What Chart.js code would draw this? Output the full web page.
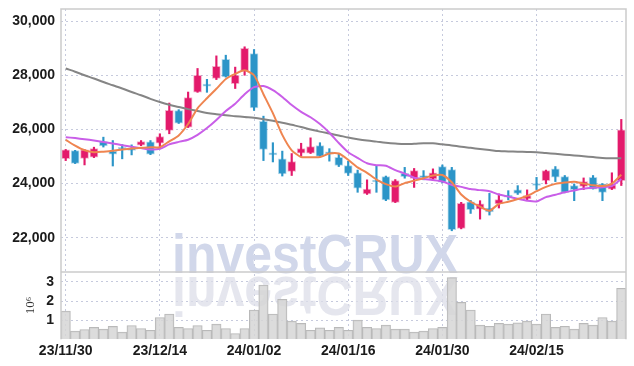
<!DOCTYPE html>
<html>
<head>
<meta charset="utf-8">
<script src="https://cdn.jsdelivr.net/npm/chart.js@4.4.1/dist/chart.umd.min.js"></script>
<style>
  html, body { margin: 0; padding: 0; background: #fff; }
  #wrap { width: 634px; height: 366px; position: relative; }
</style>
</head>
<body>
<div id="wrap"><canvas id="chart"></canvas></div>
<script>
// trading days shown on the category axis
const dates = [
  '23/11/30', '23/12/01', '23/12/04', '23/12/05', '23/12/06', '23/12/07', '23/12/08', '23/12/11', '23/12/12', '23/12/13',
  '23/12/14', '23/12/15', '23/12/18', '23/12/19', '23/12/20', '23/12/21', '23/12/22', '23/12/26', '23/12/27', '23/12/28',
  '24/01/02', '24/01/03', '24/01/04', '24/01/05', '24/01/08', '24/01/09', '24/01/10', '24/01/11', '24/01/12', '24/01/15',
  '24/01/16', '24/01/17', '24/01/18', '24/01/19', '24/01/22', '24/01/23', '24/01/24', '24/01/25', '24/01/26', '24/01/29',
  '24/01/30', '24/01/31', '24/02/01', '24/02/02', '24/02/05', '24/02/06', '24/02/07', '24/02/08', '24/02/13', '24/02/14',
  '24/02/15', '24/02/16', '24/02/19', '24/02/20', '24/02/21', '24/02/22', '24/02/23', '24/02/26', '24/02/27', '24/02/28'
];

const opens = [
  24920, 25220, 24930, 24975, 25555, 25200, 25290, 25285, 25420, 25545,
  25490, 25963, 26700, 26085, 27380, 27620, 27880, 28590, 27690, 28150,
  28800, 26300, 25090, 24915, 24455, 25120, 25120, 25400, 25130, 24970,
  24667, 24396, 23620, 24090, 24260, 23310, 24380, 24196, 24250, 24175,
  24630, 24520, 22345, 23330, 23060, 23100, 23250, 23530, 23770, 23435,
  23960, 24110, 24545, 24260, 23930, 23900, 24235, 23990, 23800, 24110
];
const highs = [
  25260, 25230, 25260, 25345, 25715, 25590, 25445, 25430, 25590, 25590,
  25840, 26974, 26730, 27380, 28250, 27850, 28715, 28740, 28300, 29050,
  28950, 26490, 25510, 25200, 25110, 25490, 25690, 25510, 25290, 25120,
  24830, 24500, 24140, 24667, 24280, 24150, 24600, 24560, 24480, 24545,
  24690, 24600, 23310, 23380, 23370, 23640, 23620, 23740, 23926, 23770,
  24230, 24500, 24630, 24300, 23990, 24210, 24300, 24000, 24400, 26370
];
const lows = [
  24850, 24740, 24690, 24960, 25350, 24650, 24915, 25060, 25400, 25070,
  25285, 25840, 26220, 26070, 27370, 27370, 27840, 27930, 27510, 28000,
  26700, 24850, 24800, 24280, 24300, 25010, 25110, 24990, 24830, 24630,
  24300, 23680, 23600, 23680, 23370, 23300, 24200, 23860, 24140, 24110,
  24030, 22260, 22330, 22900, 22690, 22840, 23100, 23400, 23600, 23370,
  23780, 23990, 24075, 23660, 23370, 23780, 23800, 23370, 23780, 23930
];
const closes = [
  25250, 24750, 25250, 25290, 25390, 25090, 25270, 25230, 25555, 25085,
  25740, 26704, 26235, 27175, 28000, 27600, 28330, 27940, 28000, 28990,
  26790, 25260, 25060, 24360, 24815, 25290, 25370, 25000, 25100, 24670,
  24380, 23830, 23800, 24060, 23400, 24110, 24260, 24480, 24220, 24400,
  24050, 22300, 23270, 23040, 23250, 22960, 23410, 23500, 23640, 23555,
  23930, 24480, 24235, 23680, 23780, 24075, 23800, 23680, 23960, 25990
];

// moving averages
const ma5 = [
  25618, 25400, 25230, 25160, 25180, 25210, 25260, 25300, 25320, 25340,
  25345, 25560, 25780, 26200, 26780, 27150, 27500, 27860, 28050, 28180,
  28000, 27300, 26600, 25800, 25230, 24980, 24975, 24980, 25110, 25110,
  24880, 24600, 24400, 24150, 23980, 23890, 24020, 24110, 24200, 24300,
  24320, 24050, 23600, 23330, 23150, 23000, 23250, 23330, 23430, 23550,
  23720, 23880, 23990, 24040, 24070, 24000, 23940, 23910, 24000, 24330
];
const ma20 = [
  25715, 25680, 25640, 25590, 25540, 25480, 25420, 25360, 25310, 25260,
  25285, 25450, 25540, 25620, 25800, 26050, 26350, 26680, 26950, 27300,
  27560, 27600, 27450, 27200, 26900, 26650, 26450, 26200, 25880, 25500,
  25160, 24950, 24750, 24680, 24660, 24500, 24370, 24220, 24170, 24130,
  24080, 23950, 23880, 23800, 23760, 23720, 23600, 23520, 23440, 23370,
  23340, 23500, 23590, 23680, 23750, 23820, 23850, 23870, 23910, 24170
];
const maLong = [
  28250, 28130, 28000, 27880, 27750, 27630, 27510, 27380, 27260, 27130,
  27010, 26910, 26830, 26750, 26680, 26610, 26560, 26520, 26490, 26460,
  26430, 26380, 26320, 26250, 26170, 26090, 26000, 25920, 25850, 25780,
  25700, 25640, 25590, 25550, 25510, 25480, 25460, 25470, 25490, 25490,
  25450, 25410, 25360, 25320, 25280, 25240, 25200, 25190, 25180, 25170,
  25160, 25130, 25100, 25070, 25040, 25010, 24980, 24950, 24940, 24940
];

// volume in millions of shares
const volumes = [
  1.47, 0.42, 0.51, 0.62, 0.53, 0.67, 0.37, 0.72, 0.56, 0.47,
  1.14, 1.32, 0.62, 0.56, 0.72, 0.47, 0.79, 0.56, 0.30, 0.56,
  1.53, 2.84, 1.32, 2.09, 0.95, 0.83, 0.47, 0.60, 0.47, 0.62,
  0.47, 1.00, 0.62, 0.56, 0.74, 0.53, 0.53, 0.37, 0.42, 0.56,
  0.62, 3.23, 1.93, 1.53, 0.74, 0.68, 0.83, 0.79, 0.86, 0.95,
  0.79, 1.32, 0.62, 0.68, 0.53, 0.83, 0.74, 1.14, 0.95, 2.67
];

const priceTicks = [22000, 24000, 26000, 28000, 30000];
const volumeTicks = [1, 2, 3];
const labelEvery = 10;

const UP = '#e31a6b';
const DOWN = '#2c95c8';
const GRID = '#c6cadd';
const TICK_FONT = "'Liberation Sans Narrow', 'Liberation Sans', sans-serif";

const isUp = closes.map((c, i) => c >= opens[i]);
const candleColors = isUp.map(u => u ? UP : DOWN);
const haloColors = isUp.map(u => u ? 'rgba(227,26,107,0.35)' : 'rgba(44,149,200,0.35)');

// fixed axis width, no extra label padding above/below the panels
function fitAxis(axis) {
  axis.width = 52;
  axis.paddingTop = 0;
  axis.paddingBottom = 0;
}

// watermark behind the marks, frame lines on top
const framePlugin = {
  id: 'frame',
  beforeDatasetsDraw(chart) {
    const { ctx, chartArea } = chart;
    const py = chart.scales.y;
    const text = 'investCRUX';
    ctx.save();
    ctx.beginPath();
    ctx.rect(chartArea.left, chartArea.top, chartArea.width, chartArea.height);
    ctx.clip();
    ctx.font = 'bold 55px "Liberation Sans", sans-serif';
    const w = ctx.measureText(text).width;
    ctx.translate(315, py.bottom + 1);
    ctx.scale(286 / w, 1);
    ctx.textAlign = 'center';
    ctx.textBaseline = 'alphabetic';
    ctx.fillStyle = '#d1d7ea';
    ctx.fillText(text, 0, 0);
    ctx.scale(1, -1);
    ctx.fillStyle = 'rgba(220,222,232,0.75)';
    ctx.fillText(text, 0, -4);
    ctx.restore();
  },
  afterDraw(chart) {
    const { ctx } = chart;
    const py = chart.scales.y, vy = chart.scales.yVol;
    const l = chart.chartArea.left, r = chart.chartArea.right;
    ctx.save();
    ctx.strokeStyle = '#cbcbcb';
    ctx.lineWidth = 1.5;
    ctx.beginPath();
    ctx.moveTo(l, vy.bottom); ctx.lineTo(l, py.top); ctx.lineTo(r, py.top); ctx.lineTo(r, vy.bottom);
    ctx.moveTo(l, py.bottom); ctx.lineTo(r, py.bottom);
    ctx.stroke();
    ctx.restore();
  }
};

new Chart(document.getElementById('chart'), {
  type: 'bar',
  data: {
    labels: dates,
    datasets: [
      {
        type: 'line', label: 'MA5', data: ma5, yAxisID: 'y', order: 0,
        borderColor: '#ef8550', borderWidth: 2, pointRadius: 0, tension: 0.2
      },
      {
        type: 'line', label: 'MA20', data: ma20, yAxisID: 'y', order: 1,
        borderColor: '#c95ee8', borderWidth: 2, pointRadius: 0, tension: 0.2
      },
      {
        type: 'line', label: 'MA long', data: maLong, yAxisID: 'y', order: 2,
        borderColor: '#858585', borderWidth: 2, pointRadius: 0, tension: 0.4
      },
      {
        label: 'body', data: opens.map((o, i) => [o, closes[i]]), yAxisID: 'y', order: 3,
        grouped: false, barThickness: 8, minBarLength: 2,
        backgroundColor: candleColors, borderColor: haloColors, borderWidth: 1, borderSkipped: false
      },
      {
        label: 'wick', data: lows.map((l, i) => [l, highs[i]]), yAxisID: 'y', order: 4,
        grouped: false, barThickness: 1.5,
        backgroundColor: candleColors, borderWidth: 0
      },
      {
        label: 'volume', data: volumes, yAxisID: 'yVol', order: 5,
        grouped: false, barPercentage: 1, categoryPercentage: 1,
        backgroundColor: 'rgba(214,214,214,0.85)', borderColor: '#b9b9b9', borderWidth: 1, borderSkipped: 'bottom'
      }
    ]
  },
  options: {
    responsive: true,
    maintainAspectRatio: false,
    animation: false,
    layout: { padding: { left: 9, right: 8, top: 9, bottom: 2 } },
    plugins: { legend: { display: false }, tooltip: { enabled: false } },
    scales: {
      x: {
        offset: true,
        grid: { offset: false, color: GRID, drawTicks: false },
        border: { display: false, dash: [2, 3] },
        ticks: {
          autoSkip: false, maxRotation: 0, padding: 4, color: '#1b1b1b',
          font: { family: TICK_FONT, size: 14, weight: 'bold' },
          callback: function(value, index) {
            return index % labelEvery === 0 ? this.getLabelForValue(value) : null;
          }
        }
      },
      yVol: {
        stack: 'panels', stackWeight: 67,
        min: 0, max: 3.526,
        grid: { color: GRID, drawTicks: false },
        border: { display: false, dash: [2, 3] },
        afterBuildTicks: axis => { axis.ticks = volumeTicks.map(v => ({ value: v })); },
        afterFit: fitAxis,
        title: {
          display: true, text: '10\u2076', color: '#333',
          font: { family: "'Liberation Serif', 'DejaVu Serif', serif", size: 13 },
          padding: { top: 14, bottom: 0 }
        },
        ticks: {
          autoSkip: false, padding: 7, color: '#1b1b1b',
          font: { family: TICK_FONT, size: 14, weight: 'bold' }
        }
      },
      y: {
        stack: 'panels', stackWeight: 262,
        min: 20740, max: 30445,
        grid: { color: GRID, drawTicks: false },
        border: { display: false, dash: [2, 3] },
        afterBuildTicks: axis => { axis.ticks = priceTicks.map(v => ({ value: v })); },
        afterFit: fitAxis,
        ticks: {
          autoSkip: false, padding: 6, color: '#1b1b1b',
          font: { family: TICK_FONT, size: 14, weight: 'bold' },
          callback: v => v.toLocaleString('en-US')
        }
      }
    }
  },
  plugins: [framePlugin]
});
</script>
</body>
</html>
